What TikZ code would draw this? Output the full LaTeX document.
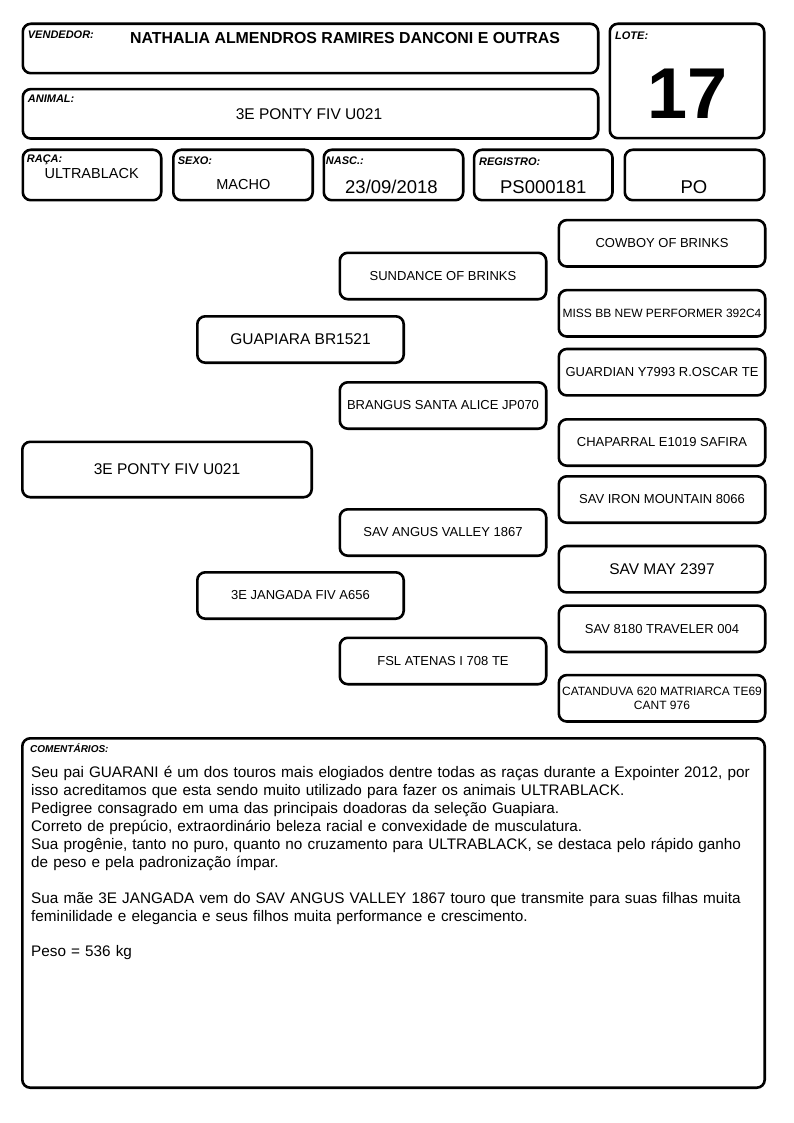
\documentclass[tikz,border=0pt]{standalone}
\usepackage{fontspec}
\setmainfont{Liberation Sans}
\newcommand{\fsize}[1]{\fontsize{#1}{#1}\selectfont}
\tikzset{
  card/.style={draw, line width=2.6pt, rounded corners=8pt, inner sep=0pt, align=center},
  ped/.style={card, minimum width=206.4pt, minimum height=46.4pt, font=\fsize{13}},
  tag/.style={anchor=base west, inner sep=0pt, font=\fsize{11}\bfseries\itshape},
  value/.style={anchor=base, inner sep=0pt, font=\fsize{14.5}},
}
\begin{document}
\begin{tikzpicture}[x=1pt, y=-1pt]
  \useasboundingbox (0,0) rectangle (794,1123);

  % Header boxes
  \node[card, minimum width=575.4pt, minimum height=49.4pt] (vend) at (310.5,48.5) {};
  \node[card, minimum width=154.4pt, minimum height=114.4pt] (lote) at (687,81) {};
  \node[card, minimum width=575.4pt, minimum height=49.4pt] (animal) at (310.5,113.8) {};
  \node[card, minimum width=138.4pt, minimum height=50.4pt] (raca) at (92,175) {};
  \node[card, minimum width=139.4pt, minimum height=50.4pt] (sexo) at (243,175) {};
  \node[card, minimum width=139.4pt, minimum height=50.4pt] (nasc) at (393.5,175) {};
  \node[card, minimum width=138.4pt, minimum height=50.4pt] (reg) at (543.3,175) {};
  \node[card, minimum width=139.4pt, minimum height=50.4pt] (po) at (694.5,175) {};

  % Header labels
  \node[tag] (vendtag) at (27.7,39) {VENDEDOR:};
  \node[tag] (lotetag) at (615,40) {LOTE:};
  \node[tag] (animaltag) at (27.7,102.7) {ANIMAL:};
  \node[tag] (racatag) at (26.7,163) {RAÇA:};
  \node[tag] (sexotag) at (177.7,165) {SEXO:};
  \node[tag] (nasctag) at (325.7,165) {NASC.:};
  \node[tag] (regtag) at (479,165.5) {REGISTRO:};

  % Header values
  \node[value, font=\fsize{15.9}\bfseries] (vendname) at (345,43.3) {NATHALIA ALMENDROS RAMIRES DANCONI E OUTRAS};
  \node[value, font=\fsize{72}\bfseries] (lotenum) at (687.5,118.3) {17};
  \node[value, font=\fsize{15.5}] (animalname) at (309,119.3) {3E PONTY FIV U021};
  \node[value] (racaval) at (91.7,178.3) {ULTRABLACK};
  \node[value] (sexoval) at (243.3,189.3) {MACHO};
  \node[value, font=\fsize{18.5}] (nascval) at (391.5,193.3) {23/09/2018};
  \node[value, font=\fsize{18.5}] (regval) at (543.3,193.3) {PS000181};
  \node[value, font=\fsize{18.5}] (poval) at (694,193.3) {PO};

  % Pedigree: animal, parents
  \node[card, minimum width=289.4pt, minimum height=55.4pt, font=\fsize{15.5}] (self) at (167,469.5) {3E PONTY FIV U021};
  \node[ped, font=\fsize{15.5}] (sire) at (300.5,339.5) {GUAPIARA BR1521};
  \node[ped] (dam) at (300.5,595.5) {3E JANGADA FIV A656};

  % Grandparents
  \node[ped] (ss) at (443,276) {SUNDANCE OF BRINKS};
  \node[ped] (sd) at (443,405.5) {BRANGUS SANTA ALICE JP070};
  \node[ped] (ds) at (443,532.5) {SAV ANGUS VALLEY 1867};
  \node[ped] (dd) at (443,661) {FSL ATENAS I 708 TE};

  % Great-grandparents
  \node[ped] (sss) at (662,243.3) {COWBOY OF BRINKS};
  \node[ped, font=\fsize{12}] (ssd) at (662,313.3) {MISS BB NEW PERFORMER 392C4};
  \node[ped] (sds) at (662,372.2) {GUARDIAN Y7993 R.OSCAR TE};
  \node[ped] (sdd) at (662,442.5) {CHAPARRAL E1019 SAFIRA};
  \node[ped] (dss) at (662,499.5) {SAV IRON MOUNTAIN 8066};
  \node[ped, font=\fsize{15.5}] (dsd) at (662,569.2) {SAV MAY 2397};
  \node[ped] (dds) at (662,628.8) {SAV 8180 TRAVELER 004};
  \node[ped, font=\fontsize{12}{14.3}\selectfont] (ddd) at (662,698.3) {CATANDUVA 620 MATRIARCA TE69\\CANT 976};

  % Comments
  \node[card, minimum width=742.4pt, minimum height=349.4pt] (coment) at (393.5,913) {};
  \node[tag, font=\fsize{10}\bfseries\itshape] (comenttag) at (30,752) {COMENTÁRIOS:};
  \node[anchor=north west, inner sep=0pt, text width=740pt, align=left,
        font=\fontsize{15.3}{17.9}\selectfont] (comenttext) at (31,766.5)
    {Seu pai GUARANI é um dos touros mais elogiados dentre todas as raças durante a Expointer 2012, por\\
     isso acreditamos que esta sendo muito utilizado para fazer os animais ULTRABLACK.\\
     Pedigree consagrado em uma das principais doadoras da seleção Guapiara.\\
     Correto de prepúcio, extraordinário beleza racial e convexidade de musculatura.\\
     Sua progênie, tanto no puro, quanto no cruzamento para ULTRABLACK, se destaca pelo rápido ganho\\
     de peso e pela padronização ímpar.\\[17.9pt]
     Sua mãe 3E JANGADA vem do SAV ANGUS VALLEY 1867 touro que transmite para suas filhas muita\\
     feminilidade e elegancia e seus filhos muita performance e crescimento.\\[17.9pt]
     Peso = 536 kg};
\end{tikzpicture}
\end{document}
